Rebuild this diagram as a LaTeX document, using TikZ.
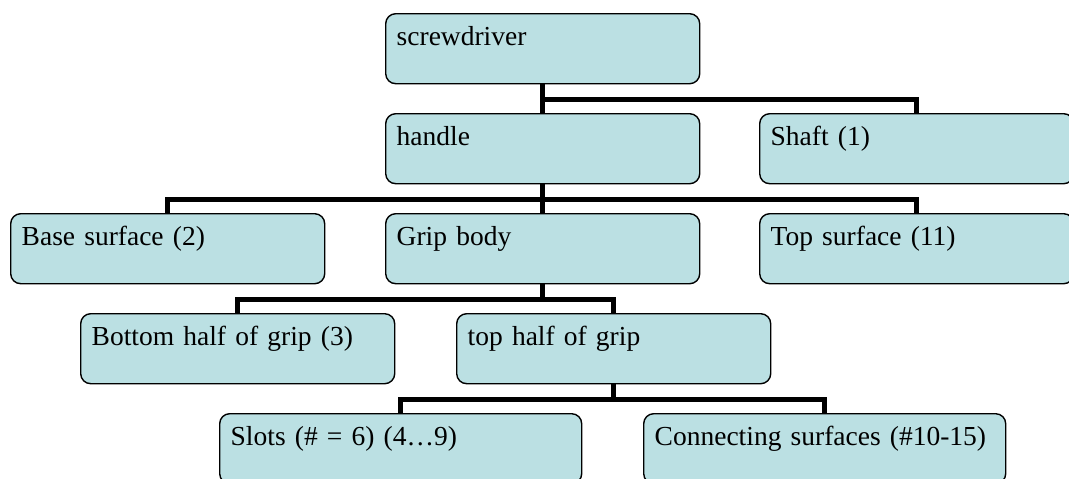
\documentclass[tikz,border=0pt]{standalone}
\usepackage{fontspec}
\setmainfont{Liberation Serif}
\usetikzlibrary{backgrounds}
\definecolor{boxfill}{RGB}{187,224,227}
\tikzset{
  part/.style={draw=black, line width=1.4pt, fill=boxfill, rounded corners=10pt,
    anchor=north west, inner xsep=11pt, inner ysep=0pt,
    text height=32pt, text depth=38pt, align=left,
    font=\fontsize{27.5}{32}\selectfont},
  narrow/.style={part, text width=292pt},
  wide/.style={part, text width=340pt},
  conn/.style={draw=black, line width=5.5pt}
}
\begin{document}
\begin{tikzpicture}[x=1pt,y=-1pt]
\useasboundingbox (0,0) rectangle (1069,479);
\clip (0,0) rectangle (1069,479);
% part boxes
\node[narrow] (scr)   at (385,13)  {screwdriver};
\node[narrow] (hdl)   at (385,113) {handle};
\node[narrow] (shaft) at (759,113) {Shaft (1)};
\node[narrow] (base)  at (10,213)  {Base surface (2)};
\node[narrow] (grip)  at (385,213) {Grip body};
\node[narrow] (topsf) at (759,213) {Top surface (11)};
\node[narrow] (bot)   at (80,313)  {Bottom half of grip (3)};
\node[narrow] (tophf) at (456,313) {top half of grip};
\node[wide]   (slots) at (219,413) {Slots (\# = 6) (4…9)};
\node[wide]   (conns) at (643,413) {Connecting surfaces (\#10-15)};
% tree connectors, behind the boxes
\begin{scope}[on background layer]
\draw[conn] (scr.south) -- (hdl.north);
\draw[conn] (scr.south) -- ++(0,15) -| (shaft.north);
\draw[conn] (hdl.south) -- (grip.north);
\draw[conn] (hdl.south) -- ++(0,15) -| (base.north);
\draw[conn] (hdl.south) -- ++(0,15) -| (topsf.north);
\draw[conn] (grip.south) -- ++(0,15) -| (bot.north);
\draw[conn] (grip.south) -- ++(0,15) -| (tophf.north);
\draw[conn] (tophf.south) -- ++(0,15) -| (slots.north);
\draw[conn] (tophf.south) -- ++(0,15) -| (conns.north);
\end{scope}
\end{tikzpicture}
\end{document}
